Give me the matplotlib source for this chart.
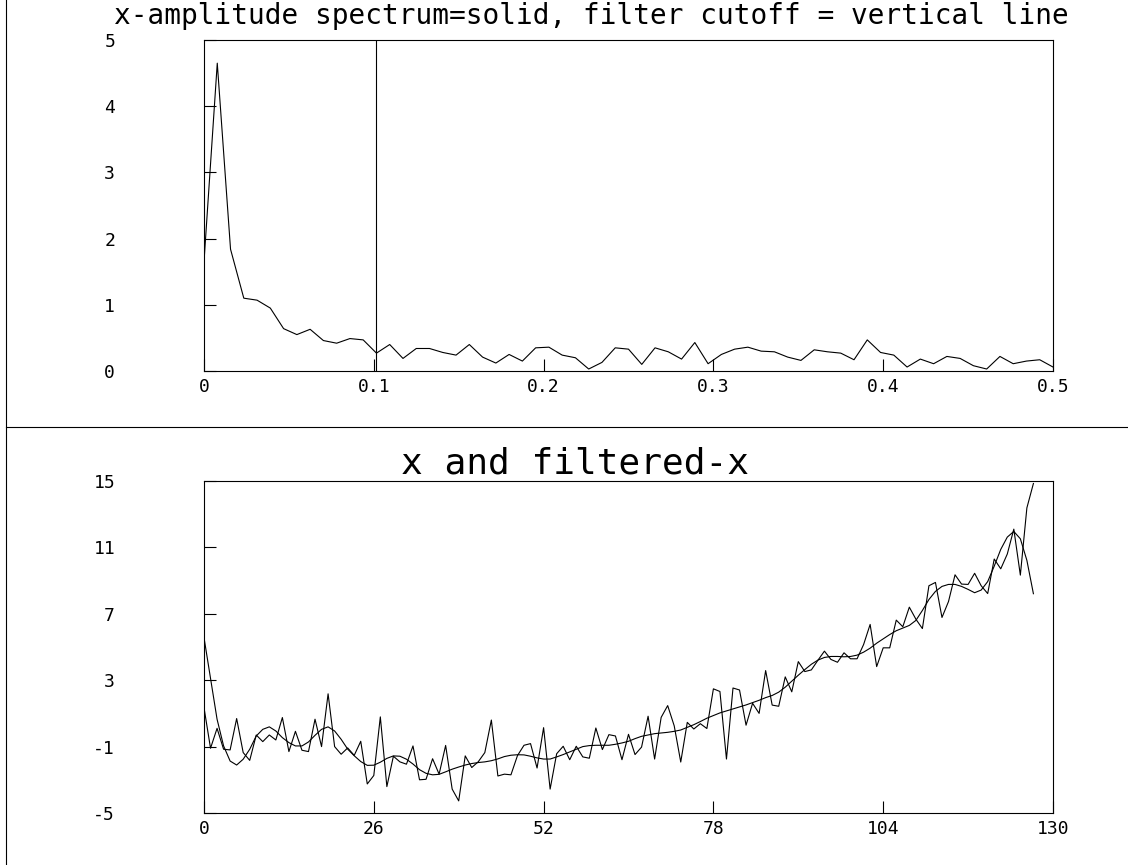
import numpy as np
import matplotlib
matplotlib.use("Agg")
import matplotlib.pyplot as plt
from matplotlib.lines import Line2D

# amplitude spectrum, 65 bins from 0 to 0.5 (step 1/128)
amp = [1.65, 4.65, 1.84, 1.10, 1.07, 0.95, 0.64, 0.55, 0.63, 0.46,
       0.42, 0.49, 0.47, 0.27, 0.40, 0.19, 0.34, 0.34, 0.28, 0.24,
       0.40, 0.21, 0.12, 0.25, 0.15, 0.35, 0.36, 0.24, 0.20, 0.03,
       0.13, 0.35, 0.33, 0.10, 0.35, 0.29, 0.18, 0.43, 0.11, 0.25,
       0.33, 0.36, 0.30, 0.29, 0.21, 0.16, 0.32, 0.29, 0.27, 0.17,
       0.47, 0.28, 0.24, 0.06, 0.18, 0.11, 0.22, 0.19, 0.08, 0.03,
       0.22, 0.11, 0.15, 0.17, 0.06]
cutoff = 13 / 128

# raw series x (128 samples)
x_raw = [1.35, -1.10, 0.10, -1.16, -1.20, 0.69, -1.36, -1.83, -0.30, -0.70,
         -0.30, -0.60, 0.75, -1.30, -0.08, -1.22, -1.30, 0.65, -1.00, 2.18,
         -1.00, -1.46, -1.08, -1.53, -0.68, -3.25, -2.74, 0.79, -3.41, -1.58,
         -1.92, -2.06, -0.96, -3.00, -2.97, -1.73, -2.66, -0.93, -3.56, -4.27,
         -1.56, -2.26, -1.91, -1.36, 0.60, -2.77, -2.66, -2.70, -1.54, -0.92,
         -0.82, -2.29, 0.14, -3.56, -1.43, -0.98, -1.79, -0.98, -1.62, -1.70,
         0.12, -1.18, -0.28, -0.36, -1.79, -0.26, -1.48, -1.03, 0.83, -1.75,
         0.76, 1.47, 0.25, -1.93, 0.46, 0.06, 0.38, 0.09, 2.48, 2.32,
         -1.75, 2.53, 2.41, 0.29, 1.61, 1.00, 3.58, 1.50, 1.43, 3.20,
         2.30, 4.12, 3.52, 3.62, 4.20, 4.75, 4.25, 4.08, 4.65, 4.29,
         4.29, 5.15, 6.36, 3.82, 4.95, 4.95, 6.62, 6.22, 7.40, 6.68,
         6.11, 8.69, 8.89, 6.78, 7.74, 9.35, 8.79, 8.77, 9.44, 8.69,
         8.22, 10.30, 9.71, 10.60, 12.10, 9.33, 13.38, 14.85]

# low-pass filtered x
x_filt = [5.57, 3.10, 0.65, -0.96, -1.87, -2.11, -1.76, -1.16, -0.36, 0.04,
          0.19, -0.06, -0.46, -0.76, -0.96, -0.96, -0.72, -0.32, 0.04, 0.19,
          -0.06, -0.56, -1.15, -1.55, -1.90, -2.13, -2.12, -1.94, -1.71, -1.56,
          -1.58, -1.76, -2.05, -2.39, -2.61, -2.70, -2.67, -2.52, -2.36, -2.23,
          -2.11, -2.02, -1.96, -1.92, -1.85, -1.74, -1.60, -1.52, -1.49, -1.50,
          -1.58, -1.68, -1.75, -1.75, -1.62, -1.48, -1.32, -1.16, -1.00, -0.94,
          -0.92, -0.92, -0.92, -0.86, -0.78, -0.68, -0.52, -0.38, -0.30, -0.22,
          -0.18, -0.14, -0.08, 0.00, 0.16, 0.32, 0.51, 0.71, 0.87, 1.03,
          1.15, 1.27, 1.39, 1.51, 1.65, 1.79, 1.95, 2.08, 2.28, 2.58,
          2.94, 3.30, 3.64, 3.96, 4.21, 4.37, 4.43, 4.43, 4.41, 4.43,
          4.51, 4.69, 4.93, 5.23, 5.49, 5.75, 5.98, 6.14, 6.30, 6.60,
          7.20, 7.86, 8.35, 8.65, 8.77, 8.77, 8.65, 8.47, 8.27, 8.43,
          8.94, 9.87, 10.88, 11.62, 11.96, 11.52, 10.22, 8.21]

top_xticks = [0, 0.1, 0.2, 0.3, 0.4, 0.5]
top_xlabels = ['0', '0.1', '0.2', '0.3', '0.4', '0.5']
top_yticks = [0, 1, 2, 3, 4, 5]
bot_xticks = [0, 26, 52, 78, 104, 130]
bot_yticks = [-5, -1, 3, 7, 11, 15]

plt.rcParams['font.family'] = ['DejaVu Sans Mono']
plt.rcParams['axes.unicode_minus'] = False
W, H = 1128, 865
fig = plt.figure(figsize=(W / 100, H / 100), dpi=100)


def style(ax):
    for s in ax.spines.values():
        s.set_linewidth(0.8)
    ax.tick_params(direction='in', length=8.5, width=0.8, top=False, right=False,
                   labelsize=13)
    ax.tick_params(axis='y', pad=64)
    ax.tick_params(axis='x', pad=5)


# top panel: spectrum
ax1 = fig.add_axes([204 / W, 1 - 371 / H, 849 / W, 331 / H])
freq = np.arange(len(amp)) / 128
ax1.plot(freq, amp, color='black', lw=0.8)
ax1.axvline(cutoff, color='black', lw=0.8)
ax1.set_xlim(0, 0.5)
ax1.set_ylim(0, 5)
ax1.set_xticks(top_xticks)
ax1.set_xticklabels(top_xlabels)
ax1.set_yticks(top_yticks)
style(ax1)
fig.text(591 / W, 1 - 16 / H,
         'x-amplitude spectrum=solid, filter cutoff = vertical line',
         ha='center', va='center', fontsize=20)

# bottom panel: series and filtered series
ax2 = fig.add_axes([204 / W, 1 - 813 / H, 849 / W, 332 / H])
n = np.arange(len(x_raw))
ax2.plot(n, x_raw, color='black', lw=0.8)
ax2.plot(n, x_filt, color='black', lw=0.8)
ax2.set_xlim(0, 130)
ax2.set_ylim(-5, 15)
ax2.set_xticks(bot_xticks)
ax2.set_yticks(bot_yticks)
style(ax2)
fig.text(575 / W, 1 - 463 / H, 'x and filtered-x',
         ha='center', va='center', fontsize=26)

# frame lines of the page layout
fig.add_artist(Line2D([6 / W, 6 / W], [0, 1], color='black', lw=0.8))
fig.add_artist(Line2D([6 / W, 1], [1 - 427 / H, 1 - 427 / H], color='black', lw=0.8))

fig.savefig('out.png', dpi=100)
